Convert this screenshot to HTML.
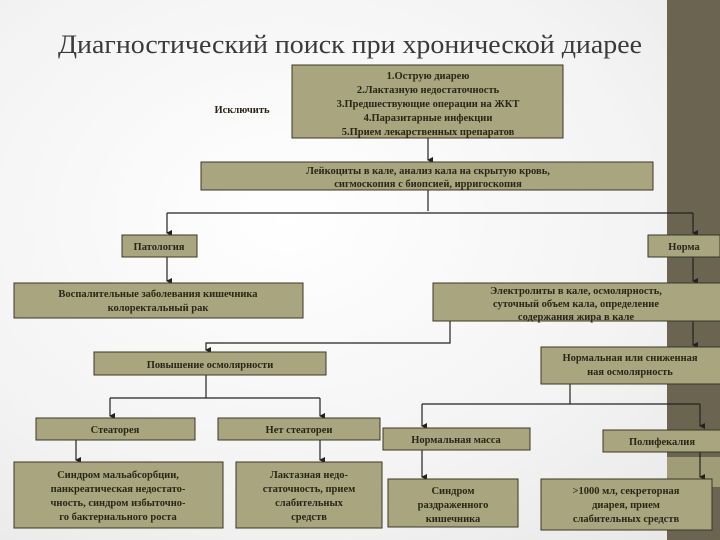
<!DOCTYPE html>
<html><head><meta charset="utf-8"><style>
html,body{margin:0;padding:0;}
body{width:720px;height:540px;overflow:hidden;background:radial-gradient(ellipse at 40% 40%,#ffffff 0%,#f3f3f3 60%,#e6e6e6 100%);}
svg{display:block}
.t{font-family:"Liberation Serif",serif;font-weight:bold;font-size:10.5px;fill:#2a2618;text-anchor:middle}
.b{fill:#a9a67f;stroke:#3a3626;stroke-width:1}
.l{stroke:#222;stroke-width:1.2;fill:none}
</style></head><body>
<svg width="720" height="540" viewBox="0 0 720 540">
<defs><marker id="a" markerWidth="6" markerHeight="6" refX="3" refY="5" orient="auto" markerUnits="userSpaceOnUse"><path d="M0,0 L6,0 L3,6 z" fill="#222"/></marker></defs>
<rect x="667" y="0" width="53" height="540" fill="#6b6450"/>
<rect x="667" y="457" width="53" height="30" fill="#a09c78"/>
<text x="350" y="53" style="font-family:'Liberation Serif',serif;font-size:26px;fill:#3a3a3a" text-anchor="middle" textLength="584" lengthAdjust="spacingAndGlyphs">Диагностический поиск при хронической диарее</text>
<text class="t" x="242" y="113">Исключить</text>
<!-- connectors -->
<path class="l" d="M428 138 V160" marker-end="url(#a)"/>
<path class="l" d="M428 190 V211"/>
<path class="l" d="M167 213 H693"/>
<path class="l" d="M167 213 V233" marker-end="url(#a)"/>
<path class="l" d="M693 213 V233" marker-end="url(#a)"/>
<path class="l" d="M167 257 V281" marker-end="url(#a)"/>
<path class="l" d="M693 257 V281" marker-end="url(#a)"/>
<path class="l" d="M450 321 V343 H206 V350" marker-end="url(#a)"/>
<path class="l" d="M693 321 V345" marker-end="url(#a)"/>
<path class="l" d="M206 375 V398"/>
<path class="l" d="M110 398 H320"/>
<path class="l" d="M110 398 V416" marker-end="url(#a)"/>
<path class="l" d="M320 398 V416" marker-end="url(#a)"/>
<path class="l" d="M570 384 V404"/>
<path class="l" d="M422 404 H700"/>
<path class="l" d="M422 404 V426" marker-end="url(#a)"/>
<path class="l" d="M700 404 V426" marker-end="url(#a)"/>
<path class="l" d="M76 440 V460" marker-end="url(#a)"/>
<path class="l" d="M320 440 V460" marker-end="url(#a)"/>
<path class="l" d="M422 450 V477" marker-end="url(#a)"/>
<path class="l" d="M700 452 V477" marker-end="url(#a)"/>
<!-- boxes -->
<rect class="b" x="292" y="65" width="271" height="73"/>
<text class="t" x="428" y="79">1.Острую диарею</text>
<text class="t" x="428" y="93">2.Лактазную недостаточность</text>
<text class="t" x="428" y="107">3.Предшествующие операции на ЖКТ</text>
<text class="t" x="428" y="121">4.Паразитарные инфекции</text>
<text class="t" x="428" y="135">5.Прием лекарственных препаратов</text>
<rect class="b" x="201" y="162" width="452" height="28"/>
<text class="t" x="428" y="174">Лейкоциты в кале, анализ кала на скрытую кровь,</text>
<text class="t" x="428" y="187">сигмоскопия с биопсией, ирригоскопия</text>
<rect class="b" x="122" y="235" width="75" height="22"/>
<text class="t" x="159" y="250">Патология</text>
<rect class="b" x="648" y="235" width="72" height="22"/>
<text class="t" x="684" y="250">Норма</text>
<rect class="b" x="14" y="283" width="289" height="35"/>
<text class="t" x="158" y="297">Воспалительные заболевания кишечника</text>
<text class="t" x="158" y="311">колоректальный рак</text>
<rect class="b" x="433" y="283" width="290" height="38"/>
<text class="t" x="576" y="294">Электролиты в кале, осмолярность,</text>
<text class="t" x="576" y="307">суточный объем кала, определение</text>
<text class="t" x="576" y="320">содержания жира в кале</text>
<rect class="b" x="94" y="352" width="232" height="23"/>
<text class="t" x="210" y="368">Повышение осмолярности</text>
<rect class="b" x="541" y="347" width="182" height="37"/>
<text class="t" x="630" y="361">Нормальная или сниженная</text>
<text class="t" x="630" y="375">ная осмолярность</text>
<rect class="b" x="36" y="418" width="159" height="22"/>
<text class="t" x="115" y="433">Стеаторея</text>
<rect class="b" x="218" y="418" width="162" height="22"/>
<text class="t" x="299" y="433">Нет стеатореи</text>
<rect class="b" x="383" y="428" width="147" height="22"/>
<text class="t" x="456" y="443">Нормальная масса</text>
<rect class="b" x="603" y="430" width="120" height="22"/>
<text class="t" x="662" y="445">Полифекалия</text>
<rect class="b" x="14" y="462" width="209" height="66"/>
<text class="t" x="118" y="478">Синдром мальабсорбции,</text>
<text class="t" x="118" y="492">панкреатическая недостато-</text>
<text class="t" x="118" y="506">чность, синдром избыточно-</text>
<text class="t" x="118" y="520">го бактериального роста</text>
<rect class="b" x="236" y="462" width="146" height="66"/>
<text class="t" x="309" y="478">Лактазная недо-</text>
<text class="t" x="309" y="492">статочность, прием</text>
<text class="t" x="309" y="506">слабительных</text>
<text class="t" x="309" y="520">средств</text>
<rect class="b" x="388" y="479" width="130" height="48"/>
<text class="t" x="453" y="494">Синдром</text>
<text class="t" x="453" y="508">раздраженного</text>
<text class="t" x="453" y="522">кишечника</text>
<rect class="b" x="541" y="479" width="171" height="51"/>
<text class="t" x="626" y="494">&gt;1000 мл, секреторная</text>
<text class="t" x="626" y="508">диарея, прием</text>
<text class="t" x="626" y="522">слабительных средств</text>
</svg>
</body></html>
